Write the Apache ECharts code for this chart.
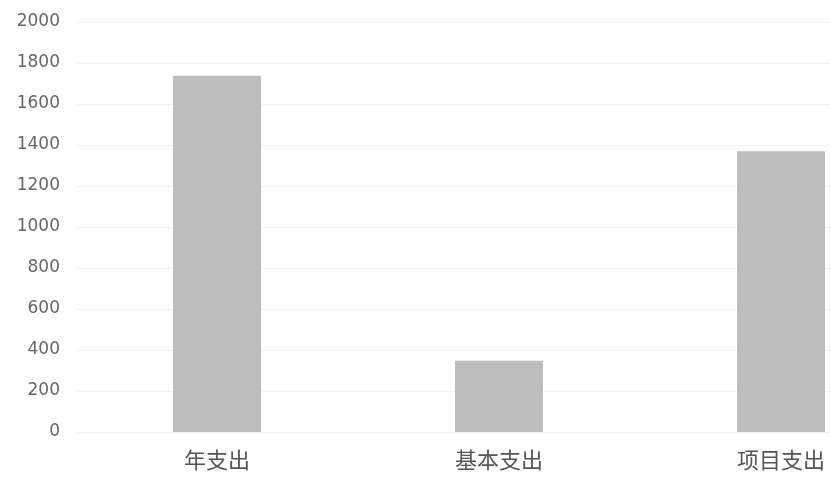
<!DOCTYPE html>
<html><head><meta charset="utf-8">
<script src="https://cdn.jsdelivr.net/npm/echarts@6/dist/echarts.min.js"></script>
<style>html,body{margin:0;padding:0;background:#fff;overflow:hidden;width:830px;height:490px}#c{width:922px;height:490px}</style>
</head><body><div id="c"></div>
<script>
var categories = ['年支出', '基本支出', '项目支出'];
var values = [1738, 348, 1370];
var yTicks = [0, 200, 400, 600, 800, 1000, 1200, 1400, 1600, 1800, 2000];

var chart = echarts.init(document.getElementById('c'), null, {renderer: 'canvas'});
chart.setOption({
  animation: false,
  backgroundColor: '#ffffff',
  grid: {left: 76, top: 22, right: 0, bottom: 58, containLabel: false},
  xAxis: {
    type: 'category', data: categories,
    axisLine: {show: false}, axisTick: {show: false},
    axisLabel: {color: '#555', fontSize: 22, margin: 17, fontFamily: 'Noto Sans CJK SC'}
  },
  yAxis: {
    type: 'value', min: yTicks[0], max: yTicks[yTicks.length - 1], interval: 200,
    axisLine: {show: false}, axisTick: {show: false},
    axisLabel: {color: '#666', fontSize: 17, margin: 16, fontFamily: 'DejaVu Sans',
      formatter: function (v) { return String(v); }},
    splitLine: {lineStyle: {color: '#f3f3f3', width: 1}}
  },
  series: [{
    type: 'bar', data: values, barWidth: 88,
    itemStyle: {color: '#bdbdbd'}
  }]
});
</script></body></html>
